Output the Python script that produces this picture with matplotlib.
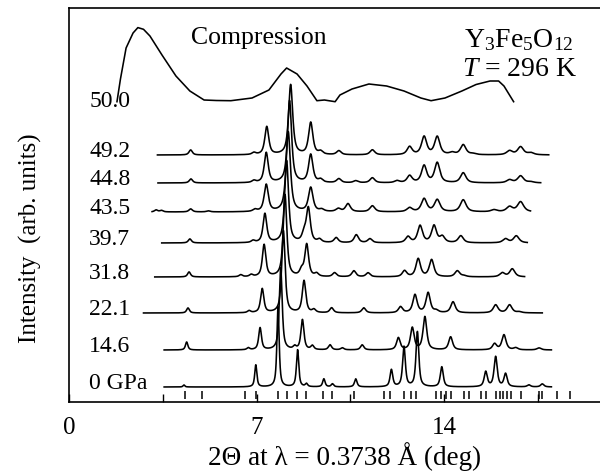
import numpy as np
import matplotlib
matplotlib.use("Agg")
import matplotlib.pyplot as plt

plt.rcParams['font.family'] = ['Liberation Serif', 'DejaVu Serif']
plt.rcParams['mathtext.fontset'] = 'custom'
plt.rcParams['mathtext.rm'] = 'Liberation Serif'
plt.rcParams['mathtext.it'] = 'Liberation Serif:italic'

# ---------------- data ----------------
labels = ["0 GPa", "14.6", "22.1", "31.8", "39.7", "43.5", "44.8", "49.2"]
offsets = [15, 52, 89, 125, 159, 190, 219, 247]
x_start = [3.55, 3.55, 2.78, 3.20, 3.46, 3.10, 3.32, 3.30]
x_end = [18.0, 18.0, 17.66, 17.0, 17.1, 17.22, 17.6, 17.9]
fwhm = [0.10, 0.13, 0.15, 0.16, 0.17, 0.19, 0.18, 0.18]

pos_0 = [4.29, 6.97, 7.80, 8.53, 8.86, 9.51, 9.83, 10.70, 12.03, 12.50, 13.00, 13.91, 15.55, 15.92, 16.29, 17.16, 17.66]
int_0 = [2, 22, 80, 37, 3, 8, 3, 8, 17, 40, 55, 20, 15, 30, 13, 2, 3]
pos_146 = [4.39, 6.69, 7.13, 7.90, 8.42, 8.71, 9.08, 9.74, 10.2, 10.94, 12.29, 12.81, 13.28, 14.24, 15.88, 16.23, 16.67, 17.54]
int_146 = [8, 2, 22, 82, 3, 30, 4, 5, 2, 5, 12, 22, 33, 13, 6, 15, 2, 2]
pos_221 = [4.44, 6.72, 7.21, 8.00, 8.77, 9.14, 9.80, 11.0, 12.37, 12.91, 13.40, 13.70, 14.33, 15.92, 16.44, 16.80]
int_221 = [5, 2, 24, 82, 32, 3, 5, 5, 6, 18, 20, 2, 11, 8, 8, 1]
pos_318 = [4.48, 6.41, 6.80, 7.28, 8.06, 8.68, 8.87, 9.24, 9.91, 10.63, 11.16, 12.52, 13.03, 13.53, 14.49, 14.74, 16.17, 16.54]
int_318 = [5, 2, 2, 32, 82, 6, 32, 3, 4, 6, 4, 6, 18, 17, 6, 1, 4, 8]
pos_397 = [4.51, 6.87, 7.31, 8.12, 8.77, 8.93, 9.35, 9.97, 10.72, 11.23, 12.65, 13.10, 13.62, 13.93, 14.62, 16.29, 16.69]
int_397 = [4, 2, 29, 82, 8, 34, 3, 5, 8, 4, 6, 17, 17, 6, 7, 4, 7]
pos_435 = [3.25, 3.45, 4.54, 5.20, 6.94, 7.36, 8.18, 9.02, 9.43, 10.05, 10.41, 11.32, 12.71, 13.25, 13.74, 14.71, 15.86, 16.44, 16.85]
int_435 = [2, 1.5, 3, 1, 2, 27, 80, 24, 2, 3, 8, 6, 4, 13, 12, 12, 2, 5, 10]
pos_448 = [4.55, 6.90, 7.36, 8.23, 9.02, 9.39, 10.07, 10.70, 11.32, 12.24, 12.71, 13.25, 13.74, 14.71, 16.44, 16.85, 17.23]
int_448 = [4, 2, 30, 82, 28, 3, 4, 2, 5, 2, 7, 17, 20, 10, 3, 7, 1]
pos_492 = [4.54, 6.90, 7.38, 8.27, 9.02, 9.39, 10.07, 11.32, 12.71, 13.25, 13.74, 14.30, 14.71, 15.07, 16.44, 16.85, 17.23]
int_492 = [5, 2, 28, 70, 32, 3, 4, 5, 8, 18, 18, 2, 10, 1, 4, 8, 2]

peak_pos = [pos_0, pos_146, pos_221, pos_318, pos_397, pos_435, pos_448, pos_492]
peak_int = [int_0, int_146, int_221, int_318, int_397, int_435, int_448, int_492]

# amorphous pattern at 50.0 GPa (read point by point)
amor_label = "50.0"
amor_offset = 300
amor_x = [1.79, 1.92, 2.13, 2.39, 2.57, 2.78, 3.02, 3.47, 3.99, 4.51, 5.04, 5.5, 6.04, 6.83, 7.46, 7.91,
          8.12, 8.51, 8.88, 9.25, 9.53, 9.93, 10.11, 10.56, 11.19, 11.85, 12.5, 13.13, 13.51, 14.03,
          14.66, 15.19, 15.71, 16.03, 16.23, 16.59]
amor_y = [0.3, 23, 54, 69, 74.4, 72.7, 66, 47, 26, 11, 2, 1.5, 1.3, 4, 12, 28,
          34, 28, 16, 1.3, 2, 0.3, 7, 13, 18, 16, 11, 4, 1.3, 4,
          11, 17.5, 21, 21, 16, 0.3]

# reflection markers (calculated positions)
markers = [4.32, 4.98, 6.55, 6.97, 7.80, 8.15, 8.52, 8.83, 9.48, 9.80, 10.63, 11.75, 11.97,
           12.50, 12.75, 12.94, 13.71, 13.87, 14.05, 14.24, 14.74, 14.93, 15.39, 15.57, 15.92,
           16.07, 16.21, 16.36, 16.51, 16.85, 17.54, 17.66, 18.22, 18.68]

# ---------------- figure ----------------
W, H = 600, 473
fig = plt.figure(figsize=(W / 100, H / 100), dpi=100)
ax = fig.add_axes([69 / W, (H - 402) / H, 536 / W, 394 / H])
ax.set_xlim(0, 20)
ax.set_ylim(0, 394)


def profile(x, centers, heights, w):
    y = np.zeros_like(x)
    for c, h in zip(centers, heights):
        g = w * (0.6 + 0.05 * c) / 2.0
        lor = 1.0 / (1.0 + ((x - c) / g) ** 2)
        gau = np.exp(-np.log(2) * ((x - c) / g) ** 2)
        y += h * (0.75 * lor + 0.25 * gau)
    return y


for lab, off, xs, xe, w, pp, pi in zip(labels, offsets, x_start, x_end, fwhm, peak_pos, peak_int):
    x = np.linspace(xs, xe, 3000)
    y = off + profile(x, pp, pi, w)
    ax.plot(x, y, color='black', lw=1.15)
    ax.text(0.75, off + 4, lab, fontsize=17, ha='left', va='center')

ax.plot(amor_x, np.array(amor_y) + amor_offset, color='black', lw=1.15)
ax.text(0.75, amor_offset + 1, amor_label, fontsize=17, ha='left', va='center')

ax.vlines(markers, 3, 11, color='black', lw=1.1)

ax.set_xticks([0, 7, 14])
ax.set_xticks([3.5, 10.5, 17.5], minor=True)
ax.tick_params(axis='x', which='both', direction='in', length=6, width=1.0,
               labelsize=18, pad=11)
ax.set_yticks([])
for s in ax.spines.values():
    s.set_linewidth(1.2)

ax.set_xlabel("2Θ at λ = 0.3738 Å (deg)", fontsize=19.5)
ax.xaxis.set_label_coords((345 - 69) / 536, -(457 - 402) / 394, transform=ax.transAxes)
ax.xaxis.label.set_va('center')
ax.set_ylabel("Intensity  (arb. units)", fontsize=18)
ax.yaxis.set_label_coords(-(69 - 30) / 536, (402 - 238) / 394, transform=ax.transAxes)
ax.yaxis.label.set_va('center')


def ftext(x, y, s, **kw):
    fig.text(x / W, 1 - y / H, s, **kw)


ftext(191, 38, "Compression", fontsize=18.5, ha='left', va='center')
ftext(574, 40, "Y$_3$Fe$_5$O$_{12}$", fontsize=20, ha='right', va='center')
ftext(577, 69, "$T$ = 296 K", fontsize=20, ha='right', va='center')

fig.savefig("out.png", dpi=100)
